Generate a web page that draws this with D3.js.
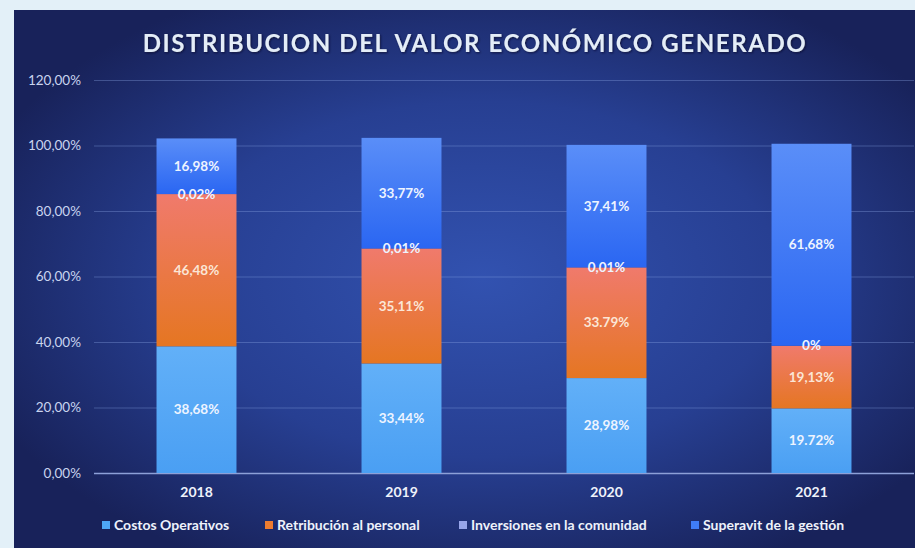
<!DOCTYPE html>
<html>
<head>
<meta charset="utf-8">
<script src="https://cdn.jsdelivr.net/npm/d3@7"></script>
<style>
  html, body { margin: 0; padding: 0; background: #e3f0f8; }
  #chart { width: 915px; height: 548px; }
  text { font-family: Lato, "Open Sans", sans-serif; }
</style>
</head>
<body>
<div id="chart"></div>
<script>
// Datos del gráfico
const years = ['2018', '2019', '2020', '2021'];
const series = ['Costos Operativos', 'Retribución al personal', 'Inversiones en la comunidad', 'Superavit de la gestión'];
const costos = [38.68, 33.44, 28.98, 19.72];
const retribucion = [46.48, 35.11, 33.79, 19.13];
const inversiones = [0.02, 0.01, 0.01, 0];
const superavit = [16.98, 33.77, 37.41, 61.68];
const labelsCostos = ['38,68%', '33,44%', '28,98%', '19.72%'];
const labelsRetribucion = ['46,48%', '35,11%', '33.79%', '19,13%'];
const labelsInversiones = ['0,02%', '0,01%', '0,01%', '0%'];
const labelsSuperavit = ['16,98%', '33,77%', '37,41%', '61,68%'];
const yTicks = [0, 20, 40, 60, 80, 100, 120];
const yTickLabels = ['0,00%', '20,00%', '40,00%', '60,00%', '80,00%', '100,00%', '120,00%'];

const W = 915, H = 548;
const margin = {top: 80, right: 1, bottom: 75, left: 94};
const width = W - margin.left - margin.right,
      height = H - margin.top - margin.bottom;

const svg = d3.select('#chart').append('svg')
    .attr('width', W).attr('height', H);

const defs = svg.append('defs');

// fondo
const bg = defs.append('radialGradient').attr('id', 'bg')
    .attr('cx', '52%').attr('cy', '50%').attr('r', '60%');
bg.append('stop').attr('offset', '0%').attr('stop-color', '#3252b0');
bg.append('stop').attr('offset', '55%').attr('stop-color', '#273f92');
bg.append('stop').attr('offset', '100%').attr('stop-color', '#18225a');

function vgrad(id, top, bottom) {
    let g = defs.append('linearGradient').attr('id', id)
        .attr('x1', 0).attr('y1', 0).attr('x2', 0).attr('y2', 1);
    g.append('stop').attr('offset', '0%').attr('stop-color', top);
    g.append('stop').attr('offset', '100%').attr('stop-color', bottom);
}
vgrad('g0', '#62b0f8', '#4a9ff3');
vgrad('g1', '#f07a6c', '#e57622');
vgrad('g2', '#a4aef0', '#8f9ce6');
vgrad('g3', '#5a8ef8', '#2a66f2');

const glow = defs.append('filter').attr('id', 'glow')
    .attr('x', '-10%').attr('y', '-30%').attr('width', '120%').attr('height', '160%');
glow.append('feDropShadow').attr('dx', 1).attr('dy', 1).attr('stdDeviation', 1.2)
    .attr('flood-color', '#0a1030').attr('flood-opacity', 0.8);

svg.append('rect').attr('x', 14).attr('y', 10)
    .attr('width', W - 14).attr('height', H - 10)
    .attr('fill', 'url(#bg)');

svg.append('text')
    .attr('x', 475).attr('y', 52)
    .attr('text-anchor', 'middle')
    .attr('fill', '#e4edf8')
    .attr('font-size', 24)
    .attr('font-weight', 'bold')
    .attr('letter-spacing', 1.6)
    .attr('filter', 'url(#glow)')
    .text('DISTRIBUCION DEL VALOR ECONÓMICO GENERADO');

const g = svg.append('g')
    .attr('transform', 'translate(' + margin.left + ',' + margin.top + ')');

let x = d3.scaleBand()
    .domain(years)
    .range([0, width])
    .paddingInner(0.61)
    .paddingOuter(0.305);

let y = d3.scaleLinear()
    .domain([0, 120])
    .range([height, 0]);

// grid + eje y
let yAxis = d3.axisLeft(y)
    .tickValues(yTicks)
    .tickSize(-width)
    .tickFormat(function(d, i) { return yTickLabels[i]; });

g.append('g').attr('class', 'yaxis').call(yAxis)
    .call(function(a) {
        a.select('.domain').remove();
        a.selectAll('.tick line')
            .attr('stroke', function(d) { return d == 0 ? '#8da0d8' : 'rgba(140,165,230,0.35)'; })
            .attr('stroke-width', function(d) { return d == 0 ? 1.5 : 1; });
        a.selectAll('.tick text')
            .attr('x', -13)
            .attr('fill', '#c9d4ef')
            .attr('font-size', 13.5)
            .style('font-family', 'Lato, sans-serif');
    });

let xAxis = d3.axisBottom(x).tickSize(0);
g.append('g').attr('transform', 'translate(0,' + height + ')').call(xAxis)
    .call(function(a) {
        a.select('.domain').remove();
        a.selectAll('.tick text')
            .attr('dy', 0).attr('y', 24)
            .attr('fill', '#eef2fb')
            .attr('font-size', 14)
            .attr('font-weight', 'bold')
            .style('font-family', 'Lato, sans-serif');
    });

const data = years.map(function(yr, i) {
    return {year: yr, c: costos[i], r: retribucion[i], inv: inversiones[i], s: superavit[i]};
});
const keys = ['c', 'r', 'inv', 's'];
const labelSets = [labelsCostos, labelsRetribucion, labelsInversiones, labelsSuperavit];
const stacked = d3.stack().keys(keys)(data);

g.append('g').selectAll('g')
    .data(stacked)
    .enter().append('g')
    .attr('fill', function(d, i) { return 'url(#g' + i + ')'; })
    .selectAll('rect')
    .data(function(d) { return d; })
    .enter().append('rect')
        .attr('x', function(d) { return x(d.data.year); })
        .attr('y', function(d) { return y(d[1]); })
        .attr('height', function(d) { return Math.max(0, y(d[0]) - y(d[1])); })
        .attr('width', x.bandwidth());

// etiquetas
stacked.forEach(function(layer, li) {
    g.append('g').selectAll('text')
        .data(layer)
        .enter().append('text')
        .attr('x', function(d) { return x(d.data.year) + x.bandwidth() / 2; })
        .attr('y', function(d) { return y((d[0] + d[1]) / 2); })
        .attr('dy', '0.35em')
        .attr('text-anchor', 'middle')
        .attr('fill', li == 1 ? '#fbe6d6' : '#eef4ff')
        .attr('font-size', 13.5)
        .attr('font-weight', 'bold')
        .text(function(d, i) { return labelSets[li][i]; });
});

// leyenda
const legendColors = ['#4ea6f5', '#ec7c30', '#97a5ea', '#3f7cf6'];
const legendX = [102, 265, 459, 691];
const legend = svg.append('g');
series.forEach(function(s, i) {
    legend.append('rect')
        .attr('x', legendX[i]).attr('y', 521)
        .attr('width', 8).attr('height', 8)
        .attr('fill', legendColors[i]);
    legend.append('text')
        .attr('x', legendX[i] + 12).attr('y', 530)
        .attr('fill', '#eef2fb')
        .attr('font-size', 14)
        .attr('font-weight', 'bold')
        .text(s);
});
</script>
</body>
</html>
